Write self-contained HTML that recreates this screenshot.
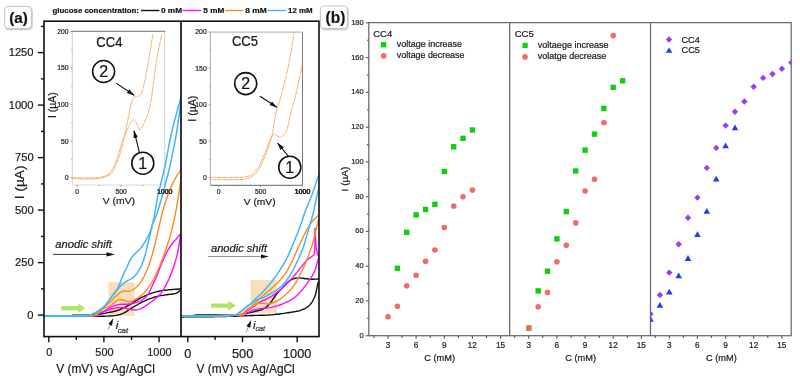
<!DOCTYPE html>
<html><head><meta charset="utf-8"><title>figure</title>
<style>html,body{margin:0;padding:0;background:#fff;} text{stroke:#222;stroke-width:0.22px;} body{width:800px;height:381px;overflow:hidden;position:relative;font-family:"Liberation Sans", sans-serif;}</style>
</head><body>
<svg width="800" height="381" viewBox="0 0 800 381" style="position:absolute;left:0;top:0;will-change:transform">
<rect x="0" y="0" width="800" height="381" fill="#fff"/>
<defs>
<clipPath id="c1"><rect x="44.0" y="21.2" width="137.0" height="315.40000000000003"/></clipPath>
<clipPath id="c2"><rect x="181.0" y="21.2" width="138.0" height="315.40000000000003"/></clipPath>
<marker id="ah" viewBox="0 0 10 10" refX="9.5" refY="5" markerWidth="7" markerHeight="7" orient="auto-start-reverse"><path d="M0,2.1 L10,5 L0,7.9 z" fill="#111"/></marker>
</defs>
<rect x="5.3" y="7.5" width="26.8" height="22.0" rx="3.5" fill="none" stroke="#9a9a9a" stroke-width="1.3" opacity="0.55"/>
<rect x="4.6" y="6.4" width="26.8" height="22.0" rx="3.5" fill="#fff" stroke="#c4c4c4" stroke-width="1"/>
<text x="9.14" y="23.3" font-family='"Liberation Sans", sans-serif' font-size="15.4" font-weight="bold" fill="#111" textLength="18.58" lengthAdjust="spacingAndGlyphs">(a)</text>
<rect x="321.09999999999997" y="7.199999999999999" width="27.0" height="22.3" rx="3.5" fill="none" stroke="#9a9a9a" stroke-width="1.3" opacity="0.55"/>
<rect x="320.4" y="6.1" width="27.0" height="22.3" rx="3.5" fill="#fff" stroke="#c4c4c4" stroke-width="1"/>
<text x="325.62" y="22.9" font-family='"Liberation Sans", sans-serif' font-size="15.8" font-weight="bold" fill="#111" textLength="19.80" lengthAdjust="spacingAndGlyphs">(b)</text>
<text x="52.59" y="12.8" font-family='"Liberation Sans", sans-serif' font-size="7.8" font-weight="bold" fill="#111" textLength="86.37" lengthAdjust="spacingAndGlyphs">glucose concentration:</text>
<text x="160.97" y="12.8" font-family='"Liberation Sans", sans-serif' font-size="7.8" font-weight="bold" fill="#111" textLength="21.08" lengthAdjust="spacingAndGlyphs">0 mM</text>
<text x="203.35" y="12.8" font-family='"Liberation Sans", sans-serif' font-size="7.8" font-weight="bold" fill="#111" textLength="20.94" lengthAdjust="spacingAndGlyphs">5 mM</text>
<text x="245.35" y="12.8" font-family='"Liberation Sans", sans-serif' font-size="7.8" font-weight="bold" fill="#111" textLength="21.30" lengthAdjust="spacingAndGlyphs">8 mM</text>
<text x="288.03" y="12.8" font-family='"Liberation Sans", sans-serif' font-size="7.8" font-weight="bold" fill="#111" textLength="24.61" lengthAdjust="spacingAndGlyphs">12 mM</text>
<line x1="141" y1="10.5" x2="159.4" y2="10.5" stroke="#111" stroke-width="1.4"/>
<line x1="182.6" y1="10.5" x2="201" y2="10.5" stroke="#ff0cff" stroke-width="1.4"/>
<line x1="225.2" y1="10.5" x2="243.4" y2="10.5" stroke="#fb8a1c" stroke-width="1.4"/>
<line x1="267.5" y1="10.5" x2="285.9" y2="10.5" stroke="#49b5f5" stroke-width="1.4"/>
<rect x="108.3" y="282.2" width="26.2" height="33.6" fill="#f7dfbb"/>
<rect x="250.5" y="280.2" width="26.4" height="33.0" fill="#f7dfbb"/>
<rect x="72.3" y="31.4" width="92.39999999999999" height="153.6" fill="#fff"/>
<line x1="72.3" y1="31.4" x2="72.3" y2="185.0" stroke="#cfcfcf" stroke-width="1"/>
<line x1="72.3" y1="185.0" x2="164.7" y2="185.0" stroke="#d8d8d8" stroke-width="1"/>
<line x1="164.7" y1="31.4" x2="164.7" y2="185.0" stroke="#d0d0d0" stroke-width="1"/>
<line x1="70.89999999999999" y1="31.4" x2="165.2" y2="31.4" stroke="#8c8c8c" stroke-width="1.1"/>
<line x1="70.7" y1="177.7" x2="72.3" y2="177.7" stroke="#777" stroke-width="0.7"/>
<line x1="71.3" y1="159.4" x2="72.3" y2="159.4" stroke="#777" stroke-width="0.7"/>
<line x1="70.7" y1="141.1" x2="72.3" y2="141.1" stroke="#777" stroke-width="0.7"/>
<line x1="71.3" y1="122.8" x2="72.3" y2="122.8" stroke="#777" stroke-width="0.7"/>
<line x1="70.7" y1="104.5" x2="72.3" y2="104.5" stroke="#777" stroke-width="0.7"/>
<line x1="71.3" y1="86.3" x2="72.3" y2="86.3" stroke="#777" stroke-width="0.7"/>
<line x1="70.7" y1="68.0" x2="72.3" y2="68.0" stroke="#777" stroke-width="0.7"/>
<line x1="71.3" y1="49.7" x2="72.3" y2="49.7" stroke="#777" stroke-width="0.7"/>
<line x1="70.7" y1="31.4" x2="72.3" y2="31.4" stroke="#777" stroke-width="0.7"/>
<text x="68.6" y="180.1" text-anchor="end" font-family='"Liberation Sans", sans-serif' font-size="6.8" fill="#2a2a2a">0</text>
<text x="68.6" y="143.5" text-anchor="end" font-family='"Liberation Sans", sans-serif' font-size="6.8" fill="#2a2a2a">50</text>
<text x="68.6" y="106.9" text-anchor="end" font-family='"Liberation Sans", sans-serif' font-size="6.8" fill="#2a2a2a">100</text>
<text x="68.6" y="70.4" text-anchor="end" font-family='"Liberation Sans", sans-serif' font-size="6.8" fill="#2a2a2a">150</text>
<text x="68.6" y="33.8" text-anchor="end" font-family='"Liberation Sans", sans-serif' font-size="6.8" fill="#2a2a2a">200</text>
<line x1="77.2" y1="185.0" x2="77.2" y2="186.8" stroke="#777" stroke-width="0.7"/>
<line x1="99.1" y1="185.0" x2="99.1" y2="186.0" stroke="#777" stroke-width="0.7"/>
<line x1="121.1" y1="185.0" x2="121.1" y2="186.8" stroke="#777" stroke-width="0.7"/>
<line x1="143.0" y1="185.0" x2="143.0" y2="186.0" stroke="#777" stroke-width="0.7"/>
<line x1="164.9" y1="185.0" x2="164.9" y2="186.8" stroke="#777" stroke-width="0.7"/>
<text x="77.2" y="193.8" text-anchor="middle" font-family='"Liberation Sans", sans-serif' font-size="6.8" fill="#2a2a2a">0</text>
<text x="121.1" y="193.8" text-anchor="middle" font-family='"Liberation Sans", sans-serif' font-size="6.8" fill="#2a2a2a">500</text>
<text x="164.9" y="193.8" text-anchor="middle" font-family='"Liberation Sans", sans-serif' font-size="6.8" fill="#2a2a2a">1000</text>
<text x="102.75" y="203.6" font-family='"Liberation Sans", sans-serif' font-size="9.6" fill="#1a1a1a" textLength="32.29" lengthAdjust="spacingAndGlyphs">V (mV)</text>
<text transform="translate(56.05,117.94) rotate(-90)" x="0" y="0" font-family='"Liberation Sans", sans-serif' font-size="10.0" fill="#1a1a1a" textLength="25.72" lengthAdjust="spacingAndGlyphs">I (µA)</text>
<text x="96.35" y="47.0" font-family='"Liberation Sans", sans-serif' font-size="14.0" fill="#111" textLength="26.05" lengthAdjust="spacingAndGlyphs">CC4</text>
<path d="M72.5,177.6 C75.4,177.7 85.4,178.1 90.0,178.0 C94.6,177.9 97.0,177.8 100.0,177.3 C103.0,176.8 105.7,176.2 107.8,174.9 C109.9,173.6 110.9,172.2 112.5,169.4 C114.1,166.6 115.6,162.8 117.2,158.3 C118.8,153.8 120.3,147.5 122.0,142.6 C123.7,137.7 126.1,132.4 127.6,129.0 C129.1,125.6 130.1,123.5 131.2,122.0 C132.3,120.5 132.9,119.2 134.0,119.8 C135.1,120.4 136.6,123.9 137.7,125.5 C138.8,127.1 138.9,131.1 140.4,129.6 C141.9,128.1 145.1,121.3 146.8,116.7 C148.5,112.1 149.6,108.1 150.8,102.0 C152.0,95.9 152.7,87.7 153.8,80.0 C154.9,72.3 156.0,63.7 157.3,56.0 C158.7,48.3 161.1,37.7 161.9,34.0" fill="none" stroke="#f59c4c" stroke-width="0.8" stroke-dasharray="5,0.6"/>
<path d="M72.5,178.6 C75.4,178.7 85.4,179.1 90.0,179.0 C94.6,178.9 96.9,178.9 100.0,178.3 C103.1,177.7 106.2,176.9 108.5,175.6 C110.8,174.3 111.8,173.4 113.5,170.5 C115.2,167.6 117.2,161.7 118.5,158.3 C119.8,154.9 120.0,153.9 121.1,150.0 C122.1,146.1 123.6,140.7 124.8,135.1 C126.0,129.5 127.4,121.9 128.5,116.7 C129.6,111.5 130.3,107.2 131.2,103.9 C132.1,100.6 132.9,98.1 134.0,96.8 C135.1,95.5 136.5,96.8 137.7,96.3 C138.9,95.8 140.1,96.5 141.3,93.8 C142.5,91.1 143.7,86.0 145.0,80.0 C146.3,74.0 147.7,65.6 149.0,58.0 C150.3,50.4 152.2,38.4 152.9,34.5" fill="none" stroke="#f59c4c" stroke-width="0.8" stroke-dasharray="5,0.6"/>
<circle cx="103.6" cy="71.5" r="11.0" fill="#fff" stroke="#111" stroke-width="1.55"/>
<text x="103.6" y="77.1" text-anchor="middle" font-family='"Liberation Sans", sans-serif' font-size="16" fill="#111">2</text>
<circle cx="142.8" cy="163.2" r="11.0" fill="#fff" stroke="#111" stroke-width="1.55"/>
<text x="142.8" y="168.8" text-anchor="middle" font-family='"Liberation Sans", sans-serif' font-size="16" fill="#111">1</text>
<line x1="116.2" y1="83.1" x2="134.1" y2="95.2" stroke="#111" stroke-width="1.1" marker-end="url(#ah)"/>
<line x1="139.3" y1="152.0" x2="134.0" y2="130.6" stroke="#111" stroke-width="1.1" marker-end="url(#ah)"/>
<rect x="210.4" y="32.1" width="92.1" height="153.20000000000002" fill="#fff"/>
<line x1="210.4" y1="32.1" x2="210.4" y2="185.3" stroke="#ababab" stroke-width="1"/>
<line x1="210.4" y1="185.3" x2="302.5" y2="185.3" stroke="#666666" stroke-width="1"/>
<line x1="302.5" y1="32.1" x2="302.5" y2="185.3" stroke="#7a7a7a" stroke-width="1"/>
<line x1="209.0" y1="32.1" x2="303.0" y2="32.1" stroke="#bdbdbd" stroke-width="1.1"/>
<line x1="208.8" y1="177.7" x2="210.4" y2="177.7" stroke="#777" stroke-width="0.7"/>
<line x1="209.4" y1="159.5" x2="210.4" y2="159.5" stroke="#777" stroke-width="0.7"/>
<line x1="208.8" y1="141.2" x2="210.4" y2="141.2" stroke="#777" stroke-width="0.7"/>
<line x1="209.4" y1="123.0" x2="210.4" y2="123.0" stroke="#777" stroke-width="0.7"/>
<line x1="208.8" y1="104.8" x2="210.4" y2="104.8" stroke="#777" stroke-width="0.7"/>
<line x1="209.4" y1="86.6" x2="210.4" y2="86.6" stroke="#777" stroke-width="0.7"/>
<line x1="208.8" y1="68.3" x2="210.4" y2="68.3" stroke="#777" stroke-width="0.7"/>
<line x1="209.4" y1="50.1" x2="210.4" y2="50.1" stroke="#777" stroke-width="0.7"/>
<line x1="208.8" y1="31.9" x2="210.4" y2="31.9" stroke="#777" stroke-width="0.7"/>
<text x="206.70000000000002" y="180.1" text-anchor="end" font-family='"Liberation Sans", sans-serif' font-size="6.8" fill="#2a2a2a">0</text>
<text x="206.70000000000002" y="143.7" text-anchor="end" font-family='"Liberation Sans", sans-serif' font-size="6.8" fill="#2a2a2a">50</text>
<text x="206.70000000000002" y="107.2" text-anchor="end" font-family='"Liberation Sans", sans-serif' font-size="6.8" fill="#2a2a2a">100</text>
<text x="206.70000000000002" y="70.8" text-anchor="end" font-family='"Liberation Sans", sans-serif' font-size="6.8" fill="#2a2a2a">150</text>
<text x="206.70000000000002" y="34.3" text-anchor="end" font-family='"Liberation Sans", sans-serif' font-size="6.8" fill="#2a2a2a">200</text>
<line x1="218.7" y1="185.3" x2="218.7" y2="187.10000000000002" stroke="#777" stroke-width="0.7"/>
<line x1="239.7" y1="185.3" x2="239.7" y2="186.3" stroke="#777" stroke-width="0.7"/>
<line x1="260.6" y1="185.3" x2="260.6" y2="187.10000000000002" stroke="#777" stroke-width="0.7"/>
<line x1="281.6" y1="185.3" x2="281.6" y2="186.3" stroke="#777" stroke-width="0.7"/>
<line x1="302.6" y1="185.3" x2="302.6" y2="187.10000000000002" stroke="#777" stroke-width="0.7"/>
<text x="218.7" y="194.4" text-anchor="middle" font-family='"Liberation Sans", sans-serif' font-size="6.8" fill="#2a2a2a">0</text>
<text x="260.6" y="194.4" text-anchor="middle" font-family='"Liberation Sans", sans-serif' font-size="6.8" fill="#2a2a2a">500</text>
<text x="302.6" y="194.4" text-anchor="middle" font-family='"Liberation Sans", sans-serif' font-size="6.8" fill="#2a2a2a">1000</text>
<text x="243.70" y="204.6" font-family='"Liberation Sans", sans-serif' font-size="9.6" fill="#1a1a1a" textLength="31.93" lengthAdjust="spacingAndGlyphs">V (mV)</text>
<text transform="translate(195.50,121.65) rotate(-90)" x="0" y="0" font-family='"Liberation Sans", sans-serif' font-size="10.0" fill="#1a1a1a" textLength="26.04" lengthAdjust="spacingAndGlyphs">I (µA)</text>
<text x="231.95" y="46.4" font-family='"Liberation Sans", sans-serif' font-size="14.0" fill="#111" textLength="26.08" lengthAdjust="spacingAndGlyphs">CC5</text>
<path d="M211.3,177.4 C214.4,177.4 224.5,177.5 230.0,177.4 C235.5,177.3 240.7,177.5 244.4,177.0 C248.1,176.5 249.8,176.1 252.2,174.3 C254.6,172.5 256.6,170.1 258.8,166.4 C261.0,162.7 263.4,156.6 265.4,152.0 C267.4,147.4 269.1,141.9 270.6,138.9 C272.1,135.9 273.1,134.4 274.6,134.1 C276.1,133.8 277.8,137.5 279.8,137.0 C281.8,136.5 284.4,135.5 286.4,131.0 C288.4,126.5 290.1,115.8 291.6,110.0 C293.1,104.2 294.3,101.2 295.5,96.2 C296.7,91.2 297.9,85.2 299.0,80.0 C300.1,74.8 301.6,67.2 302.1,64.7" fill="none" stroke="#f59c4c" stroke-width="0.8" stroke-dasharray="5,0.6"/>
<path d="M211.3,179.6 C214.4,179.6 224.5,179.7 230.0,179.6 C235.5,179.5 240.7,179.8 244.4,179.2 C248.2,178.6 250.0,178.1 252.5,176.3 C255.0,174.5 257.2,172.2 259.5,168.4 C261.8,164.6 263.9,158.9 266.0,153.5 C268.1,148.1 270.5,141.7 271.9,136.2 C273.3,130.7 273.7,125.2 274.6,120.5 C275.5,115.8 276.1,112.1 277.2,108.0 C278.3,103.9 279.5,101.5 281.0,96.0 C282.5,90.5 284.8,82.0 286.4,75.2 C288.0,68.4 289.2,62.2 290.5,55.0 C291.8,47.8 293.6,35.8 294.2,32.0" fill="none" stroke="#f59c4c" stroke-width="0.8" stroke-dasharray="5,0.6"/>
<circle cx="245.7" cy="83.6" r="11.0" fill="#fff" stroke="#111" stroke-width="1.55"/>
<text x="245.7" y="89.2" text-anchor="middle" font-family='"Liberation Sans", sans-serif' font-size="16" fill="#111">2</text>
<circle cx="289.8" cy="167.2" r="11.0" fill="#fff" stroke="#111" stroke-width="1.55"/>
<text x="289.8" y="172.8" text-anchor="middle" font-family='"Liberation Sans", sans-serif' font-size="16" fill="#111">1</text>
<line x1="260.1" y1="96.2" x2="276.8" y2="107.3" stroke="#111" stroke-width="1.1" marker-end="url(#ah)"/>
<line x1="288.4" y1="156.4" x2="277.6" y2="143.0" stroke="#111" stroke-width="1.1" marker-end="url(#ah)"/>
<g clip-path="url(#c1)" fill="none" stroke-width="1.4" stroke-linejoin="round">
<path d="M72.0,315.3 L72.5,315.3 L74.0,315.3 L75.5,315.3 L77.0,315.3 L78.5,315.3 L80.0,315.3 L81.5,315.3 L83.0,315.3 L84.5,315.3 L86.0,315.3 L87.5,315.2 L89.0,315.1 L90.5,315.1 L92.0,314.9 L93.5,314.8 L95.0,314.7 L96.5,314.5 L98.0,314.3 L99.4,314.2 L100.9,314.0 L102.4,313.7 L103.9,313.4 L105.4,313.2 L106.8,312.8 L108.3,312.6 L109.8,312.3 L111.2,312.0 L112.7,311.7 L114.2,311.3 L115.6,311.0 L117.1,310.5 L118.5,310.1 L119.9,309.5 L121.3,309.0 L122.6,308.4 L124.0,307.7 L125.4,307.1 L126.7,306.4 L128.0,305.7 L129.3,304.9 L130.6,304.1 L131.8,303.3 L133.1,302.5 L134.4,301.7 L135.6,300.9 L136.9,300.1 L138.2,299.4 L139.5,298.6 L140.8,297.9 L142.2,297.2 L143.5,296.6 L144.9,295.9 L146.2,295.3 L147.6,294.7 L149.0,294.2 L150.4,293.7 L151.8,293.2 L153.3,292.7 L154.7,292.3 L156.1,291.9 L157.6,291.5 L159.1,291.2 L160.5,290.9 L162.0,290.6 L163.5,290.4 L165.0,290.2 L166.5,290.1 L168.0,289.9 L169.5,289.7 L170.9,289.6 L172.4,289.5 L173.9,289.4 L175.4,289.3 L176.9,289.2 L178.4,289.0 L179.9,289.0 L181.4,288.9 L182.9,288.8" stroke="#111"/>
<path d="M72.0,315.9 L72.5,315.9 L74.0,315.9 L75.5,315.9 L77.0,316.0 L78.5,316.0 L80.0,316.0 L81.5,316.0 L83.0,316.0 L84.5,316.1 L86.0,316.1 L87.5,316.1 L89.0,316.1 L90.5,316.1 L92.0,316.1 L93.5,316.1 L95.0,316.1 L96.5,316.1 L98.0,316.2 L99.5,316.2 L101.0,316.2 L102.5,316.2 L104.0,316.2 L105.5,316.1 L107.0,316.1 L108.5,316.1 L110.0,316.0 L111.5,315.9 L113.0,315.8 L114.5,315.6 L116.0,315.4 L117.4,315.1 L118.9,314.8 L120.3,314.4 L121.7,313.9 L123.1,313.3 L124.5,312.7 L125.8,311.9 L127.0,311.1 L128.2,310.2 L129.5,309.4 L130.7,308.6 L132.0,307.8 L133.3,307.0 L134.6,306.3 L135.9,305.5 L137.2,304.8 L138.5,304.0 L139.8,303.3 L141.2,302.6 L142.5,301.9 L143.8,301.3 L145.2,300.6 L146.6,300.0 L147.9,299.4 L149.3,298.9 L150.7,298.3 L152.1,297.9 L153.6,297.4 L155.0,297.0 L156.5,296.6 L157.9,296.2 L159.4,295.9 L160.9,295.6 L162.3,295.4 L163.8,295.2 L165.3,294.9 L166.8,294.7 L168.3,294.5 L169.8,294.4 L171.3,294.2 L172.7,294.0 L174.2,293.8 L175.7,293.4 L177.0,292.9 L178.3,292.1 L179.4,291.1 L180.4,290.0 L180.7,289.7" stroke="#111"/>
<path d="M40.0,315.9 L40.5,315.9 L42.0,315.9 L43.5,315.9 L45.0,315.9 L46.5,315.9 L48.0,315.9 L49.5,315.9 L51.0,315.9 L52.5,315.9 L54.0,315.9 L55.5,315.9 L57.0,315.9 L58.5,315.9 L60.0,315.9 L61.5,315.9 L63.0,315.9 L64.5,315.9 L66.0,315.9 L67.5,315.9 L69.0,315.9 L70.5,315.9 L72.0,315.9 L73.5,315.9 L75.0,315.9 L76.5,315.9 L78.0,315.9 L79.5,315.9 L81.0,315.9 L82.5,315.8 L84.0,315.8 L85.5,315.8 L87.0,315.8 L88.5,315.8 L90.0,315.8 L91.4,315.7 L92.8,315.5 L94.0,315.2 L95.3,314.7 L96.7,314.2 L98.1,313.7 L99.5,313.1 L100.9,312.5 L102.2,311.9 L103.6,311.3 L104.9,310.6 L106.2,309.8 L107.5,309.1 L108.8,308.3 L110.1,307.6 L111.5,306.9 L112.8,306.3 L114.2,305.8 L115.7,305.3 L117.1,304.9 L118.6,304.6 L120.0,304.4 L121.5,304.3 L123.0,304.3 L124.5,304.3 L126.0,304.3 L127.5,304.2 L129.0,304.0 L130.5,303.8 L132.0,303.6 L133.4,303.3 L134.9,302.9 L136.3,302.5 L137.7,302.0 L139.1,301.4 L140.5,300.8 L141.8,300.1 L143.0,299.3 L144.3,298.4 L145.4,297.4 L146.5,296.4 L147.4,295.2 L148.2,294.0 L149.0,292.7 L149.7,291.4 L150.4,290.1 L151.0,288.7 L151.6,287.3 L152.2,286.0 L152.8,284.6 L153.5,283.2 L154.1,281.9 L154.8,280.5 L155.4,279.2 L156.0,277.8 L156.5,276.4 L157.1,275.0 L157.6,273.6 L158.2,272.2 L158.7,270.8 L159.3,269.4 L159.8,268.0 L160.4,266.6 L160.9,265.2 L161.5,263.8 L162.1,262.4 L162.6,261.1 L163.2,259.7 L163.9,258.3 L164.5,257.0 L165.1,255.6 L165.8,254.2 L166.4,252.9 L167.1,251.6 L167.8,250.2 L168.6,249.0 L169.4,247.7 L170.2,246.5 L171.1,245.2 L172.0,244.0 L172.9,242.8 L173.8,241.7 L174.8,240.5 L175.8,239.4 L176.8,238.2 L177.7,237.1 L178.7,236.0 L179.7,234.9 L180.8,233.8 L181.9,232.9 L182.7,232.2" stroke="#ff0cff"/>
<path d="M40.0,315.9 L40.5,315.9 L42.0,315.9 L43.5,315.9 L45.0,315.9 L46.5,315.9 L48.0,315.9 L49.5,315.9 L51.0,315.9 L52.5,315.9 L54.0,315.9 L55.5,315.9 L57.0,315.9 L58.5,315.9 L60.0,315.9 L61.5,315.9 L63.0,315.9 L64.5,315.9 L66.0,315.9 L67.5,315.9 L69.0,315.9 L70.5,316.0 L72.0,316.0 L73.5,316.0 L75.0,316.0 L76.5,316.0 L78.0,315.9 L79.5,315.9 L81.0,315.9 L82.5,315.9 L84.0,315.9 L85.5,315.9 L87.0,315.9 L88.5,315.9 L90.0,315.9 L91.5,315.8 L93.0,315.7 L94.4,315.4 L95.8,315.0 L97.2,314.5 L98.6,314.0 L100.0,313.4 L101.4,312.8 L102.8,312.3 L104.2,311.8 L105.6,311.2 L107.0,310.7 L108.4,310.2 L109.8,309.7 L111.2,309.2 L112.7,308.8 L114.1,308.4 L115.6,308.1 L117.1,307.8 L118.5,307.6 L120.0,307.5 L121.5,307.6 L123.0,307.7 L124.5,308.0 L125.9,308.4 L127.4,308.7 L128.8,309.1 L130.3,309.4 L131.8,309.7 L133.3,309.9 L134.7,310.0 L136.2,309.9 L137.7,309.7 L139.1,309.3 L140.5,308.8 L141.9,308.1 L143.2,307.4 L144.5,306.6 L145.7,305.8 L147.0,304.9 L148.2,304.1 L149.4,303.2 L150.6,302.3 L151.8,301.5 L153.0,300.6 L154.2,299.6 L155.4,298.7 L156.5,297.7 L157.7,296.7 L158.7,295.7 L159.8,294.6 L160.8,293.5 L161.7,292.3 L162.5,291.1 L163.3,289.8 L164.1,288.5 L164.8,287.2 L165.5,285.9 L166.2,284.6 L166.9,283.2 L167.6,281.9 L168.3,280.5 L168.9,279.2 L169.5,277.8 L170.1,276.4 L170.6,275.0 L171.2,273.6 L171.7,272.2 L172.2,270.8 L172.7,269.4 L173.2,268.0 L173.7,266.6 L174.1,265.1 L174.6,263.7 L175.1,262.3 L175.6,260.9 L176.0,259.4 L176.4,258.0 L176.8,256.5 L177.1,255.1 L177.4,253.6 L177.7,252.1 L178.0,250.7 L178.3,249.2 L178.6,247.7 L178.8,246.2 L179.1,244.8 L179.3,243.3 L179.5,241.8 L179.8,240.3 L180.0,238.8 L180.2,237.4 L180.5,235.9 L181.1,234.6 L181.8,233.3" stroke="#ff0cff"/>
<path d="M40.0,315.9 L40.5,315.9 L42.0,315.9 L43.5,315.9 L45.0,315.9 L46.5,315.9 L48.0,315.9 L49.5,315.9 L51.0,315.9 L52.5,315.9 L54.0,315.9 L55.5,315.9 L57.0,315.9 L58.5,315.9 L60.0,315.9 L61.5,315.9 L63.0,315.9 L64.5,315.9 L66.0,315.9 L67.5,315.9 L69.0,315.9 L70.5,315.9 L72.0,315.9 L73.5,315.9 L75.0,315.9 L76.5,315.9 L78.0,315.9 L79.5,315.8 L81.0,315.8 L82.5,315.8 L84.0,315.8 L85.5,315.8 L87.0,315.7 L88.5,315.7 L90.0,315.7 L91.5,315.6 L93.0,315.5 L94.5,315.4 L95.8,315.1 L96.7,314.5 L97.2,313.7 L98.0,312.7 L99.0,311.7 L100.1,310.8 L101.3,309.8 L102.4,308.9 L103.6,307.9 L104.7,306.9 L105.9,306.0 L107.0,305.0 L108.1,304.0 L109.2,303.0 L110.3,301.9 L111.4,300.9 L112.4,299.8 L113.4,298.6 L114.4,297.5 L115.4,296.4 L116.5,295.4 L117.6,294.4 L118.8,293.5 L120.0,292.6 L121.3,291.8 L122.6,291.3 L124.0,291.0 L125.5,291.1 L127.0,291.4 L128.4,291.4 L129.9,291.2 L131.2,290.7 L132.5,290.0 L133.8,289.1 L135.0,288.2 L136.1,287.3 L137.2,286.3 L138.3,285.2 L139.3,284.1 L140.2,282.9 L141.1,281.7 L141.9,280.4 L142.6,279.1 L143.3,277.8 L144.0,276.5 L144.7,275.1 L145.3,273.8 L145.9,272.4 L146.5,271.0 L147.1,269.6 L147.7,268.3 L148.2,266.9 L148.8,265.4 L149.3,264.0 L149.7,262.6 L150.2,261.2 L150.7,259.8 L151.1,258.3 L151.5,256.9 L152.0,255.4 L152.4,254.0 L152.8,252.6 L153.2,251.1 L153.5,249.7 L153.9,248.2 L154.3,246.8 L154.7,245.3 L155.0,243.8 L155.4,242.4 L155.8,240.9 L156.1,239.5 L156.5,238.0 L156.8,236.6 L157.1,235.1 L157.5,233.6 L157.8,232.2 L158.1,230.7 L158.5,229.2 L158.8,227.8 L159.2,226.3 L159.5,224.9 L159.8,223.4 L160.1,221.9 L160.5,220.5 L160.8,219.0 L161.1,217.5 L161.5,216.1 L161.8,214.6 L162.2,213.2 L162.6,211.7 L163.0,210.3 L163.4,208.8 L163.8,207.4 L164.2,206.0 L164.7,204.5 L165.1,203.1 L165.6,201.7 L166.1,200.2 L166.6,198.8 L167.1,197.4 L167.5,196.0 L168.0,194.6 L168.6,193.2 L169.1,191.8 L169.6,190.4 L170.2,189.0 L170.8,187.6 L171.4,186.2 L172.0,184.8 L172.6,183.5 L173.3,182.1 L174.0,180.8 L174.6,179.5 L175.4,178.2 L176.1,176.9 L176.9,175.6 L177.7,174.3 L178.6,173.1 L179.5,171.9 L180.4,170.7 L181.3,169.5 L182.3,168.4 L182.9,167.6" stroke="#fb8a1c"/>
<path d="M40.0,315.9 L40.5,315.9 L42.0,315.9 L43.5,315.9 L45.0,315.9 L46.5,315.9 L48.0,315.9 L49.5,315.9 L51.0,315.9 L52.5,315.9 L54.0,315.9 L55.5,315.9 L57.0,315.9 L58.5,315.9 L60.0,315.9 L61.5,315.9 L63.0,315.9 L64.5,315.9 L66.0,315.9 L67.5,315.9 L69.0,315.9 L70.5,315.9 L72.0,315.9 L73.5,315.9 L75.0,315.9 L76.5,315.9 L78.0,315.9 L79.5,315.9 L81.0,315.9 L82.5,315.9 L84.0,315.9 L85.5,315.8 L87.0,315.8 L88.5,315.8 L90.0,315.8 L91.5,315.7 L93.0,315.6 L94.5,315.5 L95.8,315.3 L96.7,314.8 L97.3,314.0 L98.1,313.0 L99.1,312.1 L100.3,311.1 L101.4,310.2 L102.7,309.3 L104.0,308.6 L105.3,307.9 L106.7,307.3 L108.1,306.8 L109.4,306.1 L110.7,305.3 L111.9,304.5 L113.1,303.5 L114.2,302.6 L115.4,301.6 L116.6,300.8 L117.9,300.0 L119.3,299.6 L120.7,299.5 L122.2,299.7 L123.6,300.2 L125.0,300.7 L126.4,301.2 L127.8,301.6 L129.2,301.7 L130.7,301.5 L132.1,301.0 L133.4,300.4 L134.8,299.7 L136.1,298.9 L137.3,298.1 L138.6,297.3 L139.8,296.4 L141.0,295.5 L142.1,294.5 L143.2,293.5 L144.3,292.4 L145.3,291.3 L146.3,290.2 L147.3,289.1 L148.2,287.9 L149.1,286.7 L150.0,285.5 L150.8,284.3 L151.6,283.0 L152.4,281.7 L153.1,280.4 L153.8,279.0 L154.4,277.7 L155.1,276.3 L155.7,275.0 L156.3,273.6 L156.9,272.2 L157.5,270.9 L158.1,269.5 L158.7,268.1 L159.3,266.7 L159.9,265.4 L160.5,264.0 L161.0,262.6 L161.5,261.2 L162.1,259.8 L162.6,258.4 L163.1,257.0 L163.7,255.6 L164.2,254.1 L164.7,252.7 L165.2,251.3 L165.7,249.9 L166.2,248.5 L166.7,247.1 L167.1,245.6 L167.6,244.2 L168.1,242.8 L168.5,241.4 L169.0,239.9 L169.4,238.5 L169.8,237.1 L170.2,235.6 L170.6,234.2 L171.0,232.7 L171.4,231.3 L171.8,229.8 L172.2,228.4 L172.5,226.9 L172.9,225.5 L173.2,224.0 L173.5,222.5 L173.9,221.1 L174.2,219.6 L174.5,218.1 L174.8,216.7 L175.1,215.2 L175.4,213.7 L175.6,212.2 L175.9,210.8 L176.2,209.3 L176.5,207.8 L176.7,206.3 L177.0,204.9 L177.2,203.4 L177.5,201.9 L177.7,200.4 L178.0,198.9 L178.2,197.5 L178.4,196.0 L178.7,194.5 L178.9,193.0 L179.1,191.5 L179.3,190.0 L179.5,188.6 L179.8,187.1 L180.0,185.6 L180.2,184.1 L180.4,182.6 L180.6,181.1 L180.9,179.7 L181.1,178.2 L181.4,176.7 L181.7,175.2 L182.0,173.8 L182.4,172.3 L182.8,170.9 L182.9,170.4" stroke="#fb8a1c"/>
<path d="M40.0,315.9 L40.5,315.9 L42.0,315.9 L43.5,315.9 L45.0,315.9 L46.5,315.9 L48.0,315.9 L49.5,315.9 L51.0,315.9 L52.5,315.9 L54.0,315.9 L55.5,315.9 L57.0,315.9 L58.5,315.9 L60.0,315.9 L61.5,315.9 L63.0,315.9 L64.5,315.9 L66.0,315.9 L67.5,315.8 L69.0,315.8 L70.5,315.8 L72.0,315.8 L73.5,315.8 L75.0,315.8 L76.5,315.8 L78.0,315.8 L79.5,315.8 L81.0,315.8 L82.5,315.8 L84.0,315.7 L85.5,315.7 L87.0,315.7 L88.5,315.6 L89.8,315.4 L90.9,315.0 L91.9,314.4 L93.2,313.8 L94.5,313.2 L95.9,312.5 L97.2,311.8 L98.5,311.0 L99.7,310.2 L100.9,309.3 L102.1,308.4 L103.3,307.5 L104.4,306.4 L105.4,305.4 L106.4,304.2 L107.3,303.0 L108.2,301.8 L109.1,300.6 L110.0,299.4 L110.9,298.2 L111.7,297.0 L112.6,295.8 L113.5,294.6 L114.4,293.4 L115.3,292.2 L116.3,291.0 L117.2,289.8 L118.2,288.7 L119.1,287.5 L120.1,286.4 L121.2,285.4 L122.3,284.4 L123.5,283.4 L124.7,282.6 L125.9,281.7 L127.2,280.9 L128.5,280.2 L129.9,279.6 L131.2,278.9 L132.5,278.1 L133.7,277.2 L134.7,276.1 L135.7,275.0 L136.6,273.8 L137.5,272.6 L138.3,271.3 L139.1,270.1 L139.8,268.8 L140.5,267.4 L141.2,266.1 L141.8,264.7 L142.3,263.3 L142.9,261.9 L143.4,260.5 L143.9,259.1 L144.3,257.7 L144.8,256.2 L145.2,254.8 L145.6,253.4 L146.0,251.9 L146.3,250.5 L146.7,249.0 L147.0,247.5 L147.3,246.0 L147.6,244.6 L148.0,243.1 L148.3,241.7 L148.7,240.2 L149.1,238.8 L149.4,237.3 L149.8,235.9 L150.2,234.4 L150.5,232.9 L150.8,231.5 L151.2,230.0 L151.5,228.5 L151.8,227.1 L152.1,225.6 L152.4,224.1 L152.8,222.7 L153.1,221.2 L153.5,219.8 L153.8,218.3 L154.1,216.8 L154.4,215.4 L154.7,213.9 L155.0,212.4 L155.2,210.9 L155.5,209.5 L155.7,208.0 L156.0,206.5 L156.2,205.0 L156.5,203.6 L156.7,202.1 L157.0,200.6 L157.2,199.1 L157.5,197.6 L157.8,196.2 L158.1,194.7 L158.4,193.2 L158.7,191.8 L159.1,190.3 L159.5,188.9 L159.9,187.4 L160.3,186.0 L160.6,184.5 L161.0,183.1 L161.3,181.6 L161.7,180.1 L162.1,178.7 L162.4,177.2 L162.8,175.8 L163.1,174.3 L163.5,172.9 L163.8,171.4 L164.1,169.9 L164.5,168.5 L164.8,167.0 L165.1,165.5 L165.4,164.1 L165.7,162.6 L166.0,161.1 L166.3,159.7 L166.5,158.2 L166.8,156.7 L167.1,155.2 L167.4,153.8 L167.6,152.3 L167.9,150.8 L168.2,149.3 L168.5,147.9 L168.7,146.4 L169.0,144.9 L169.3,143.4 L169.6,142.0 L169.9,140.5 L170.2,139.0 L170.5,137.6 L170.8,136.1 L171.1,134.6 L171.5,133.2 L171.8,131.7 L172.1,130.2 L172.5,128.8 L172.9,127.3 L173.2,125.9 L173.6,124.4 L174.0,123.0 L174.3,121.5 L174.7,120.1 L175.1,118.6 L175.5,117.2 L175.9,115.7 L176.3,114.3 L176.7,112.8 L177.1,111.4 L177.5,109.9 L177.9,108.5 L178.3,107.0 L178.7,105.6 L179.1,104.2 L179.5,102.7 L179.9,101.3 L180.3,99.8 L180.7,98.4 L181.1,96.9 L181.4,95.5 L181.8,94.0 L182.0,93.0" stroke="#49b5f5" stroke-width="1.55"/>
<path d="M40.0,315.9 L40.5,315.9 L42.0,315.9 L43.5,315.9 L45.0,315.9 L46.5,315.9 L48.0,315.9 L49.5,315.9 L51.0,315.9 L52.5,315.9 L54.0,315.9 L55.5,315.9 L57.0,315.9 L58.5,315.9 L60.0,315.9 L61.5,315.9 L63.0,315.9 L64.5,315.9 L66.0,315.9 L67.5,315.8 L69.0,315.8 L70.5,315.8 L72.0,315.8 L73.5,315.8 L75.0,315.8 L76.5,315.8 L78.0,315.8 L79.5,315.8 L81.0,315.8 L82.5,315.8 L84.0,315.7 L85.5,315.7 L87.0,315.7 L88.5,315.6 L89.8,315.4 L90.8,315.0 L91.9,314.4 L93.2,313.8 L94.5,313.1 L95.8,312.4 L97.1,311.6 L98.4,310.8 L99.6,310.0 L100.8,309.1 L102.0,308.2 L103.2,307.2 L104.2,306.2 L105.3,305.1 L106.2,304.0 L107.2,302.8 L108.1,301.6 L109.0,300.4 L109.8,299.2 L110.7,297.9 L111.5,296.7 L112.4,295.5 L113.3,294.3 L114.2,293.1 L115.2,291.9 L116.1,290.7 L117.0,289.5 L117.8,288.2 L118.4,286.9 L119.0,285.5 L119.6,284.1 L120.1,282.7 L120.6,281.3 L121.2,279.9 L121.7,278.5 L122.2,277.1 L122.8,275.7 L123.4,274.4 L124.0,273.0 L124.6,271.6 L125.3,270.3 L126.0,269.0 L126.7,267.6 L127.3,266.3 L127.9,264.9 L128.5,263.5 L129.1,262.2 L129.8,260.8 L130.5,259.5 L131.3,258.2 L132.1,257.0 L133.0,255.8 L134.0,254.7 L135.1,253.6 L136.2,252.6 L137.3,251.5 L138.3,250.5 L139.4,249.5 L140.4,248.4 L141.4,247.2 L142.3,246.0 L143.1,244.8 L143.9,243.5 L144.7,242.2 L145.5,240.9 L146.2,239.6 L146.9,238.3 L147.6,237.0 L148.3,235.7 L149.0,234.3 L149.6,232.9 L150.2,231.6 L150.7,230.2 L151.2,228.7 L151.6,227.3 L152.0,225.9 L152.5,224.4 L153.1,223.1 L153.7,221.7 L154.3,220.3 L154.9,219.0 L155.5,217.6 L156.0,216.2 L156.6,214.8 L157.0,213.4 L157.5,211.9 L157.9,210.5 L158.4,209.1 L158.8,207.6 L159.3,206.2 L159.7,204.8 L160.1,203.3 L160.5,201.9 L160.9,200.4 L161.4,199.0 L161.8,197.6 L162.2,196.1 L162.6,194.7 L163.0,193.2 L163.4,191.8 L163.7,190.3 L164.1,188.9 L164.4,187.4 L164.8,185.9 L165.1,184.5 L165.5,183.0 L165.9,181.6 L166.3,180.1 L166.7,178.7 L167.1,177.3 L167.5,175.8 L167.9,174.4 L168.3,172.9 L168.7,171.5 L169.0,170.0 L169.4,168.5 L169.7,167.1 L170.1,165.6 L170.4,164.2 L170.7,162.7 L171.0,161.2 L171.3,159.8 L171.6,158.3 L171.9,156.8 L172.2,155.4 L172.5,153.9 L172.8,152.4 L173.1,150.9 L173.4,149.5 L173.7,148.0 L174.0,146.5 L174.3,145.1 L174.6,143.6 L174.8,142.1 L175.1,140.6 L175.4,139.2 L175.7,137.7 L175.9,136.2 L176.2,134.7 L176.4,133.2 L176.7,131.8 L176.9,130.3 L177.2,128.8 L177.4,127.3 L177.6,125.8 L177.8,124.4 L178.0,122.9 L178.2,121.4 L178.5,119.9 L178.7,118.4 L178.9,116.9 L179.1,115.5 L179.3,114.0 L179.6,112.5 L179.8,111.0 L180.0,109.5 L180.2,108.0 L180.4,106.5 L180.6,105.1 L180.9,103.6 L181.1,102.1 L181.3,100.6 L181.5,99.1 L181.8,97.6 L182.0,96.2" stroke="#49b5f5" stroke-width="1.55"/>
</g>
<g clip-path="url(#c2)" fill="none" stroke-width="1.4" stroke-linejoin="round">
<path d="M178.0,315.9 L178.5,315.9 L180.0,315.9 L181.5,315.8 L183.0,315.8 L184.5,315.8 L186.0,315.7 L187.5,315.7 L189.0,315.7 L190.5,315.6 L192.0,315.6 L193.4,315.5 L194.5,315.3 L195.5,315.1 L196.7,314.9 L198.2,314.9 L199.7,314.9 L201.2,314.9 L202.7,314.9 L204.2,314.9 L205.7,314.9 L207.2,314.9 L208.7,314.9 L210.2,314.9 L211.7,314.9 L213.2,314.9 L214.7,314.9 L216.2,314.9 L217.7,314.9 L219.2,314.9 L220.7,314.9 L222.2,314.9 L223.7,314.9 L225.2,314.9 L226.7,314.9 L228.2,314.9 L229.7,314.9 L231.2,314.9 L232.7,314.8 L234.2,314.8 L235.7,314.8 L237.2,314.7 L238.7,314.7 L240.2,314.6 L241.7,314.5 L243.2,314.3 L244.6,314.0 L246.1,313.6 L247.6,313.3 L249.0,312.9 L250.5,312.6 L251.9,312.2 L253.4,311.9 L254.8,311.5 L256.3,311.1 L257.7,310.8 L259.2,310.4 L260.7,310.0 L262.1,309.6 L263.4,308.9 L264.7,308.2 L265.9,307.3 L267.1,306.3 L268.1,305.3 L269.2,304.2 L270.1,303.1 L271.1,301.9 L272.0,300.7 L272.8,299.5 L273.7,298.2 L274.5,297.0 L275.4,295.7 L276.2,294.5 L277.2,293.3 L278.1,292.2 L279.2,291.1 L280.2,290.0 L281.3,289.0 L282.3,287.9 L283.3,286.8 L284.4,285.7 L285.4,284.6 L286.5,283.6 L287.5,282.5 L288.7,281.5 L289.8,280.6 L291.1,279.8 L292.5,279.2 L293.9,278.7 L295.3,278.3 L296.8,278.1 L298.3,277.9 L299.8,277.9 L301.3,278.1 L302.8,278.3 L304.2,278.5 L305.7,278.7 L307.2,278.8 L308.7,279.0 L310.2,279.1 L311.7,279.2 L313.2,279.2 L314.7,279.1 L316.2,279.1 L317.7,279.0 L319.2,279.0 L320.7,279.0 L321.7,279.0" stroke="#111"/>
<path d="M322.0,280.0 L321.5,280.1 L320.1,280.5 L319.0,281.3 L318.2,282.5 L317.8,283.9 L317.5,285.4 L317.2,286.8 L316.9,288.3 L316.6,289.8 L316.3,291.2 L316.0,292.7 L315.6,294.2 L315.1,295.6 L314.6,297.0 L314.0,298.3 L313.3,299.7 L312.7,301.0 L311.9,302.3 L311.0,303.5 L310.1,304.7 L309.0,305.7 L307.8,306.6 L306.6,307.5 L305.3,308.3 L304.0,309.0 L302.6,309.6 L301.2,310.1 L299.8,310.6 L298.4,311.0 L296.9,311.3 L295.4,311.6 L293.9,311.8 L292.5,312.1 L291.0,312.3 L289.5,312.5 L288.0,312.7 L286.5,312.9 L285.0,313.1 L283.6,313.4 L282.1,313.6 L280.6,313.8 L279.1,314.0 L277.6,314.2 L276.1,314.3 L274.6,314.5 L273.1,314.6 L271.6,314.8 L270.1,314.9 L268.6,315.0 L267.1,315.1 L265.7,315.1 L264.2,315.2 L262.7,315.2 L261.2,315.3 L259.7,315.3 L258.2,315.4 L256.7,315.4 L255.2,315.4 L253.7,315.5 L252.2,315.5 L250.7,315.5 L249.2,315.6 L247.7,315.6 L246.2,315.7 L244.7,315.7 L243.2,315.8 L241.7,315.9 L240.2,315.9 L238.7,316.0 L237.2,316.1 L235.7,316.2 L234.2,316.3 L232.7,316.3 L231.2,316.4 L229.7,316.4 L228.2,316.4 L226.7,316.5 L225.2,316.5 L223.7,316.5 L222.2,316.5 L220.7,316.6 L219.2,316.6 L217.7,316.6 L216.2,316.6 L214.7,316.6 L213.2,316.7 L211.7,316.7 L210.2,316.7 L208.7,316.7 L207.2,316.7 L205.7,316.7 L204.2,316.8 L202.7,316.8 L201.2,316.8 L199.7,316.8 L198.2,316.8 L196.7,316.8 L195.2,316.9 L193.7,316.9 L192.2,316.9 L190.7,316.9 L189.2,316.9 L187.7,316.9 L186.2,316.9 L184.7,316.9 L183.2,317.0 L181.7,317.0 L180.2,317.0 L178.7,317.0 L178.2,317.0" stroke="#111"/>
<path d="M178.0,315.9 L178.5,315.9 L180.0,315.9 L181.5,315.9 L183.0,315.9 L184.5,315.9 L186.0,315.8 L187.5,315.8 L189.0,315.8 L190.5,315.8 L192.0,315.8 L193.5,315.8 L195.0,315.8 L196.5,315.8 L198.0,315.8 L199.5,315.8 L201.0,315.8 L202.5,315.8 L204.0,315.8 L205.5,315.8 L207.0,315.7 L208.5,315.7 L210.0,315.7 L211.5,315.7 L213.0,315.7 L214.5,315.7 L216.0,315.7 L217.5,315.7 L219.0,315.7 L220.5,315.6 L222.0,315.6 L223.5,315.6 L225.0,315.6 L226.5,315.6 L228.0,315.5 L229.5,315.5 L231.0,315.5 L232.5,315.5 L234.0,315.4 L235.5,315.4 L237.0,315.3 L238.5,315.3 L240.0,315.2 L241.5,315.1 L243.0,314.9 L244.3,314.7 L245.2,314.1 L245.3,313.2 L245.5,312.3 L246.4,311.4 L247.6,310.5 L248.8,309.7 L250.1,308.9 L251.3,308.0 L252.6,307.2 L253.8,306.3 L255.0,305.4 L256.2,304.5 L257.4,303.6 L258.7,302.8 L259.9,302.0 L261.3,301.3 L262.6,300.7 L264.0,300.1 L265.4,299.5 L266.7,298.9 L268.1,298.2 L269.4,297.5 L270.7,296.8 L272.0,296.0 L273.2,295.2 L274.5,294.3 L275.7,293.4 L276.9,292.5 L278.1,291.6 L279.3,290.7 L280.4,289.7 L281.6,288.8 L282.7,287.8 L283.8,286.7 L284.8,285.7 L285.9,284.6 L286.9,283.6 L288.0,282.5 L289.0,281.4 L290.1,280.3 L291.1,279.2 L292.1,278.1 L293.1,277.0 L294.1,275.8 L295.0,274.7 L296.0,273.5 L296.9,272.4 L297.8,271.2 L298.8,270.0 L299.7,268.8 L300.7,267.7 L301.6,266.5 L302.5,265.3 L303.5,264.1 L304.4,263.0 L305.4,261.9 L306.5,260.8 L307.5,259.8 L308.7,258.8 L309.9,257.9 L311.1,257.0 L312.3,256.2 L313.4,255.5 L314.2,254.4 L314.5,253.0 L314.6,251.5 L314.7,250.0 L314.8,248.5 L314.8,247.0 L314.9,245.5 L314.9,244.0 L314.9,242.5 L315.0,241.0 L315.0,239.5 L315.0,238.0 L315.1,236.5 L315.1,235.0 L315.1,233.5 L315.2,232.0 L315.2,230.5 L315.2,229.0 L315.2,228.0" stroke="#ff0cff"/>
<path d="M315.2,228.0 L315.2,228.5 L315.3,230.0 L315.3,231.5 L315.4,233.0 L315.4,234.5 L315.5,236.0 L315.5,237.5 L315.6,239.0 L315.7,240.5 L315.7,242.0 L315.8,243.5 L316.0,245.0 L316.1,246.5 L316.3,248.0 L316.5,249.4 L316.8,250.9 L317.1,252.4 L317.5,253.8 L318.1,255.1 L319.2,255.9 L320.5,256.1 L322.0,256.0" stroke="#ff0cff"/>
<path d="M322.0,250.0 L321.8,250.5 L321.2,251.8 L320.7,253.2 L320.1,254.6 L319.5,256.0 L319.0,257.4 L318.4,258.8 L317.9,260.2 L317.5,261.7 L317.1,263.1 L316.7,264.5 L316.3,266.0 L315.9,267.4 L315.5,268.9 L315.0,270.3 L314.4,271.7 L313.7,273.0 L313.0,274.3 L312.3,275.6 L311.5,276.9 L310.7,278.2 L309.9,279.4 L309.1,280.7 L308.2,281.9 L307.4,283.2 L306.5,284.4 L305.6,285.6 L304.7,286.8 L303.7,287.9 L302.8,289.1 L301.8,290.2 L300.8,291.4 L299.9,292.5 L298.9,293.6 L297.8,294.7 L296.7,295.7 L295.6,296.7 L294.4,297.6 L293.2,298.5 L291.9,299.3 L290.6,300.1 L289.3,300.8 L288.0,301.5 L286.6,302.1 L285.2,302.7 L283.9,303.3 L282.5,303.9 L281.1,304.5 L279.7,305.0 L278.3,305.5 L276.8,305.9 L275.4,306.3 L274.0,306.7 L272.5,307.1 L271.0,307.4 L269.6,307.6 L268.1,307.9 L266.6,308.0 L265.1,308.2 L263.6,308.3 L262.1,308.5 L260.6,308.6 L259.1,308.8 L257.6,309.1 L256.2,309.4 L254.7,309.7 L253.3,310.2 L251.9,310.7 L250.5,311.2 L249.1,311.8 L247.7,312.3 L246.4,312.9 L245.4,313.5 L245.1,314.2 L244.6,314.7 L243.6,315.0 L242.1,315.1 L240.6,315.2 L239.1,315.2 L237.6,315.3 L236.1,315.3 L234.6,315.3 L233.1,315.4 L231.6,315.4 L230.1,315.4 L228.6,315.4 L227.1,315.5 L225.6,315.5 L224.1,315.5 L222.6,315.5 L221.1,315.5 L219.6,315.6 L218.1,315.6 L216.6,315.6 L215.1,315.6 L213.6,315.6 L212.1,315.6 L210.6,315.6 L209.1,315.7 L207.6,315.7 L206.1,315.7 L204.6,315.7 L203.1,315.7 L201.6,315.7 L200.1,315.7 L198.6,315.7 L197.1,315.8 L195.6,315.8 L194.1,315.8 L192.6,315.8 L191.1,315.8 L189.6,315.8 L188.1,315.8 L186.6,315.8 L185.1,315.8 L183.6,315.9 L182.1,315.9 L180.6,315.9 L179.1,315.9 L178.1,315.9" stroke="#ff0cff"/>
<path d="M178.0,315.9 L178.5,315.9 L180.0,315.9 L181.5,315.9 L183.0,315.8 L184.5,315.8 L186.0,315.8 L187.5,315.8 L189.0,315.8 L190.5,315.8 L192.0,315.8 L193.5,315.8 L195.0,315.8 L196.5,315.8 L198.0,315.8 L199.5,315.7 L201.0,315.7 L202.5,315.7 L204.0,315.7 L205.5,315.7 L207.0,315.7 L208.5,315.7 L210.0,315.7 L211.5,315.6 L213.0,315.6 L214.5,315.6 L216.0,315.6 L217.5,315.6 L219.0,315.5 L220.5,315.5 L222.0,315.5 L223.5,315.4 L225.0,315.4 L226.5,315.4 L228.0,315.3 L229.5,315.3 L231.0,315.2 L232.5,315.1 L234.0,315.1 L235.5,315.0 L237.0,314.8 L238.5,314.7 L239.9,314.4 L241.4,314.0 L242.6,313.4 L243.7,312.4 L244.8,311.4 L246.0,310.5 L247.2,309.7 L248.4,308.8 L249.6,307.9 L250.8,307.0 L252.0,306.0 L253.1,305.1 L254.2,304.1 L255.3,303.1 L256.4,302.0 L257.5,301.0 L258.5,299.9 L259.6,298.8 L260.7,297.8 L261.8,296.8 L262.9,295.8 L264.1,294.8 L265.2,293.9 L266.4,292.9 L267.5,291.9 L268.7,291.0 L269.8,290.0 L270.9,289.0 L272.0,288.0 L273.1,287.0 L274.2,285.9 L275.3,284.9 L276.4,283.9 L277.5,282.9 L278.6,281.8 L279.6,280.7 L280.6,279.6 L281.6,278.5 L282.6,277.3 L283.5,276.1 L284.3,274.9 L285.2,273.7 L286.0,272.4 L286.8,271.1 L287.5,269.8 L288.3,268.6 L289.0,267.2 L289.8,265.9 L290.5,264.6 L291.2,263.3 L291.8,261.9 L292.5,260.6 L293.1,259.2 L293.7,257.9 L294.3,256.5 L294.9,255.1 L295.5,253.7 L296.1,252.4 L296.7,251.0 L297.3,249.6 L297.9,248.2 L298.5,246.9 L299.2,245.5 L299.8,244.1 L300.4,242.8 L301.1,241.4 L301.7,240.1 L302.3,238.7 L302.9,237.3 L303.6,236.0 L304.2,234.6 L304.9,233.3 L305.6,232.0 L306.3,230.6 L307.0,229.3 L307.8,228.0 L308.5,226.7 L309.3,225.5 L310.2,224.2 L311.0,223.0 L312.0,221.8 L312.9,220.7 L314.0,219.6 L315.0,218.5 L316.1,217.5 L317.2,216.5 L318.4,215.5 L319.6,214.6 L320.8,213.8 L321.6,213.2" stroke="#fb8a1c"/>
<path d="M178.0,315.9 L178.5,315.9 L180.0,315.9 L181.5,315.9 L183.0,315.9 L184.5,315.8 L186.0,315.8 L187.5,315.8 L189.0,315.8 L190.5,315.8 L192.0,315.8 L193.5,315.8 L195.0,315.8 L196.5,315.8 L198.0,315.8 L199.5,315.8 L201.0,315.7 L202.5,315.7 L204.0,315.7 L205.5,315.7 L207.0,315.7 L208.5,315.7 L210.0,315.7 L211.5,315.7 L213.0,315.7 L214.5,315.6 L216.0,315.6 L217.5,315.6 L219.0,315.6 L220.5,315.6 L222.0,315.5 L223.5,315.5 L225.0,315.5 L226.5,315.5 L228.0,315.4 L229.5,315.4 L231.0,315.4 L232.5,315.3 L234.0,315.3 L235.5,315.2 L237.0,315.2 L238.5,315.1 L240.0,315.0 L241.5,314.9 L243.0,314.7 L244.3,314.3 L245.1,313.7 L245.2,312.7 L245.3,311.6 L246.0,310.6 L247.1,309.7 L248.4,308.9 L249.7,308.1 L250.9,307.3 L252.2,306.6 L253.5,305.8 L254.8,305.0 L256.1,304.3 L257.5,303.7 L258.9,303.3 L260.4,303.2 L261.9,303.2 L263.4,303.4 L264.9,303.6 L266.3,303.8 L267.8,303.9 L269.3,303.7 L270.8,303.4 L272.2,303.0 L273.6,302.5 L275.0,302.0 L276.4,301.3 L277.7,300.7 L279.0,299.9 L280.2,299.1 L281.4,298.2 L282.6,297.2 L283.7,296.2 L284.9,295.3 L286.0,294.3 L287.1,293.2 L288.2,292.2 L289.2,291.1 L290.2,290.0 L291.2,288.9 L292.2,287.7 L293.1,286.5 L294.0,285.3 L294.8,284.1 L295.6,282.8 L296.4,281.6 L297.2,280.3 L297.9,279.0 L298.6,277.7 L299.3,276.3 L300.0,275.0 L300.6,273.6 L301.3,272.3 L302.0,270.9 L302.7,269.6 L303.3,268.3 L303.9,266.9 L304.6,265.5 L305.1,264.1 L305.7,262.7 L306.2,261.3 L306.8,259.9 L307.3,258.5 L307.8,257.1 L308.4,255.7 L308.9,254.3 L309.4,252.9 L310.0,251.5 L310.5,250.1 L310.9,248.7 L311.4,247.3 L311.9,245.8 L312.3,244.4 L312.7,243.0 L313.1,241.5 L313.5,240.1 L313.9,238.6 L314.2,237.2 L314.6,235.7 L314.9,234.3 L315.3,232.8 L315.7,231.3 L316.0,229.9 L316.4,228.4 L316.7,227.0 L317.1,225.5 L317.5,224.1 L317.8,222.6 L318.2,221.2 L318.8,219.8 L319.5,218.5 L320.5,217.4 L321.6,216.4 L322.0,216.0" stroke="#fb8a1c"/>
<path d="M178.0,315.9 L178.5,315.9 L180.0,315.9 L181.5,315.9 L183.0,315.9 L184.5,315.9 L186.0,315.9 L187.5,315.9 L189.0,315.9 L190.5,315.9 L192.0,315.9 L193.5,315.9 L195.0,315.9 L196.5,315.8 L198.0,315.8 L199.5,315.8 L201.0,315.8 L202.5,315.8 L204.0,315.8 L205.5,315.8 L207.0,315.8 L208.5,315.8 L210.0,315.8 L211.5,315.8 L213.0,315.8 L214.5,315.8 L216.0,315.7 L217.5,315.7 L219.0,315.7 L220.5,315.7 L222.0,315.7 L223.5,315.7 L225.0,315.6 L226.5,315.6 L228.0,315.6 L229.5,315.5 L231.0,315.5 L232.5,315.4 L234.0,315.3 L235.4,315.0 L236.7,314.5 L237.9,313.7 L239.1,312.8 L240.3,311.9 L241.4,311.0 L242.6,310.0 L243.7,309.0 L244.9,308.1 L246.0,307.1 L247.3,306.3 L248.5,305.4 L249.7,304.5 L250.9,303.6 L252.0,302.6 L253.1,301.6 L254.1,300.5 L255.1,299.4 L256.2,298.3 L257.3,297.3 L258.4,296.3 L259.5,295.3 L260.6,294.2 L261.7,293.2 L262.7,292.1 L263.7,291.0 L264.8,289.9 L265.7,288.8 L266.7,287.7 L267.7,286.5 L268.7,285.4 L269.6,284.2 L270.6,283.1 L271.5,281.9 L272.4,280.7 L273.3,279.5 L274.2,278.3 L275.1,277.1 L276.0,275.9 L276.9,274.6 L277.7,273.4 L278.6,272.2 L279.4,270.9 L280.2,269.7 L281.0,268.4 L281.8,267.1 L282.6,265.9 L283.4,264.6 L284.1,263.3 L284.9,262.0 L285.6,260.7 L286.3,259.3 L287.0,258.0 L287.6,256.7 L288.3,255.3 L288.9,253.9 L289.5,252.6 L290.1,251.2 L290.6,249.8 L291.2,248.4 L291.8,247.0 L292.3,245.6 L292.9,244.2 L293.5,242.9 L294.1,241.5 L294.7,240.1 L295.3,238.7 L295.8,237.3 L296.4,235.9 L297.0,234.6 L297.5,233.2 L298.1,231.8 L298.6,230.4 L299.2,229.0 L299.7,227.6 L300.2,226.2 L300.7,224.7 L301.2,223.3 L301.7,221.9 L302.2,220.5 L302.6,219.1 L303.1,217.6 L303.5,216.2 L304.0,214.8 L304.5,213.4 L305.0,212.0 L305.6,210.6 L306.1,209.2 L306.7,207.8 L307.3,206.4 L307.8,205.0 L308.4,203.6 L309.0,202.2 L309.6,200.8 L310.1,199.5 L310.7,198.1 L311.2,196.7 L311.8,195.3 L312.3,193.9 L312.8,192.4 L313.3,191.0 L313.8,189.6 L314.3,188.2 L314.7,186.8 L315.2,185.4 L315.7,183.9 L316.2,182.5 L316.7,181.1 L317.2,179.7 L317.7,178.3 L318.2,176.8 L318.7,175.4 L319.2,174.0 L319.8,172.6 L320.3,171.2 L320.7,169.8 L321.2,168.4 L321.7,167.0 L322.0,166.0" stroke="#49b5f5" stroke-width="1.55"/>
<path d="M178.0,315.9 L178.5,315.9 L180.0,315.9 L181.5,315.9 L183.0,315.9 L184.5,315.9 L186.0,315.9 L187.5,315.9 L189.0,315.9 L190.5,315.9 L192.0,315.9 L193.5,315.9 L195.0,315.8 L196.5,315.8 L198.0,315.8 L199.5,315.8 L201.0,315.8 L202.5,315.8 L204.0,315.8 L205.5,315.8 L207.0,315.8 L208.5,315.8 L210.0,315.8 L211.5,315.8 L213.0,315.8 L214.5,315.8 L216.0,315.7 L217.5,315.7 L219.0,315.7 L220.5,315.7 L222.0,315.7 L223.5,315.7 L225.0,315.6 L226.5,315.6 L228.0,315.6 L229.5,315.5 L231.0,315.5 L232.5,315.4 L234.0,315.3 L235.4,315.0 L236.7,314.5 L237.9,313.7 L239.1,312.9 L240.4,312.0 L241.5,311.1 L242.7,310.1 L243.8,309.2 L245.0,308.2 L246.2,307.3 L247.4,306.4 L248.6,305.5 L249.8,304.6 L251.0,303.8 L252.2,302.9 L253.5,302.1 L254.7,301.2 L256.0,300.4 L257.3,299.7 L258.6,299.1 L260.1,298.6 L261.5,298.3 L262.9,297.7 L264.2,297.1 L265.5,296.4 L266.9,295.7 L268.2,295.0 L269.5,294.3 L270.8,293.6 L272.1,292.8 L273.4,292.1 L274.7,291.3 L276.0,290.5 L277.2,289.6 L278.4,288.7 L279.5,287.7 L280.7,286.7 L281.8,285.7 L282.8,284.7 L283.9,283.6 L284.9,282.5 L285.9,281.3 L286.8,280.2 L287.7,279.0 L288.5,277.7 L289.4,276.5 L290.1,275.2 L290.9,273.9 L291.6,272.6 L292.4,271.3 L293.1,270.0 L293.8,268.6 L294.4,267.3 L295.1,265.9 L295.7,264.6 L296.4,263.2 L297.0,261.9 L297.7,260.5 L298.3,259.2 L298.9,257.8 L299.5,256.4 L300.1,255.1 L300.8,253.7 L301.3,252.3 L301.9,250.9 L302.5,249.5 L303.0,248.1 L303.5,246.7 L303.9,245.3 L304.4,243.8 L304.8,242.4 L305.2,241.0 L305.6,239.5 L306.1,238.1 L306.5,236.6 L306.9,235.2 L307.3,233.8 L307.7,232.3 L308.2,230.9 L308.6,229.4 L309.0,228.0 L309.4,226.6 L309.9,225.1 L310.3,223.7 L310.7,222.3 L311.1,220.8 L311.6,219.4 L312.0,217.9 L312.4,216.5 L312.7,215.0 L313.1,213.6 L313.4,212.1 L313.8,210.7 L314.1,209.2 L314.4,207.7 L314.7,206.3 L315.1,204.8 L315.4,203.3 L315.7,201.9 L316.0,200.4 L316.3,198.9 L316.6,197.5 L317.0,196.0 L317.3,194.5 L317.6,193.1 L318.0,191.6 L318.5,190.2 L318.9,188.8 L319.5,187.4 L320.0,186.0 L320.5,184.6 L321.1,183.2 L321.7,181.8 L321.9,181.3" stroke="#49b5f5" stroke-width="1.55"/>
</g>
<line x1="44.0" y1="315.9" x2="88" y2="315.9" stroke="#49b5f5" stroke-width="2"/>
<line x1="181.0" y1="315.9" x2="230" y2="315.9" stroke="#49b5f5" stroke-width="2"/>
<text x="157.10" y="193.9" font-family='"Liberation Sans", sans-serif' font-size="7.6" fill="#1e1e1e" textLength="14.94" lengthAdjust="spacingAndGlyphs">1000</text>
<text x="294.46" y="194.4" font-family='"Liberation Sans", sans-serif' font-size="7.6" fill="#1e1e1e" textLength="15.99" lengthAdjust="spacingAndGlyphs">1000</text>
<rect x="44.0" y="21.2" width="275.0" height="315.40000000000003" fill="none" stroke="#111" stroke-width="1.6"/>
<line x1="181.0" y1="21.2" x2="181.0" y2="336.6" stroke="#111" stroke-width="1.7"/>
<line x1="37.8" y1="315.1" x2="44.0" y2="315.1" stroke="#111" stroke-width="1.4"/>
<line x1="41.0" y1="288.9" x2="44.0" y2="288.9" stroke="#111" stroke-width="1.4"/>
<line x1="37.8" y1="262.6" x2="44.0" y2="262.6" stroke="#111" stroke-width="1.4"/>
<line x1="41.0" y1="236.4" x2="44.0" y2="236.4" stroke="#111" stroke-width="1.4"/>
<line x1="37.8" y1="210.1" x2="44.0" y2="210.1" stroke="#111" stroke-width="1.4"/>
<line x1="41.0" y1="183.9" x2="44.0" y2="183.9" stroke="#111" stroke-width="1.4"/>
<line x1="37.8" y1="157.6" x2="44.0" y2="157.6" stroke="#111" stroke-width="1.4"/>
<line x1="41.0" y1="131.4" x2="44.0" y2="131.4" stroke="#111" stroke-width="1.4"/>
<line x1="37.8" y1="105.1" x2="44.0" y2="105.1" stroke="#111" stroke-width="1.4"/>
<line x1="41.0" y1="78.9" x2="44.0" y2="78.9" stroke="#111" stroke-width="1.4"/>
<line x1="37.8" y1="52.6" x2="44.0" y2="52.6" stroke="#111" stroke-width="1.4"/>
<line x1="41.0" y1="26.4" x2="44.0" y2="26.4" stroke="#111" stroke-width="1.4"/>
<text x="27.38" y="318.8" font-family='"Liberation Sans", sans-serif' font-size="10.7" fill="#222" textLength="6.23" lengthAdjust="spacingAndGlyphs">0</text>
<text x="14.94" y="266.3" font-family='"Liberation Sans", sans-serif' font-size="10.7" fill="#222" textLength="18.69" lengthAdjust="spacingAndGlyphs">250</text>
<text x="14.94" y="213.8" font-family='"Liberation Sans", sans-serif' font-size="10.7" fill="#222" textLength="18.69" lengthAdjust="spacingAndGlyphs">500</text>
<text x="14.94" y="161.3" font-family='"Liberation Sans", sans-serif' font-size="10.7" fill="#222" textLength="18.69" lengthAdjust="spacingAndGlyphs">750</text>
<text x="8.67" y="108.8" font-family='"Liberation Sans", sans-serif' font-size="10.7" fill="#222" textLength="24.92" lengthAdjust="spacingAndGlyphs">1000</text>
<text x="8.67" y="56.3" font-family='"Liberation Sans", sans-serif' font-size="10.7" fill="#222" textLength="24.92" lengthAdjust="spacingAndGlyphs">1250</text>
<text transform="translate(24.40,199.13) rotate(-90)" x="0" y="0" font-family='"Liberation Sans", sans-serif' font-size="12.8" fill="#222" textLength="33.61" lengthAdjust="spacingAndGlyphs">I (µA)</text>
<line x1="48.8" y1="336.6" x2="48.8" y2="342.20000000000005" stroke="#111" stroke-width="1.4"/>
<line x1="76.3" y1="336.6" x2="76.3" y2="340.0" stroke="#111" stroke-width="1.4"/>
<line x1="103.9" y1="336.6" x2="103.9" y2="342.20000000000005" stroke="#111" stroke-width="1.4"/>
<line x1="131.6" y1="336.6" x2="131.6" y2="340.0" stroke="#111" stroke-width="1.4"/>
<line x1="159.1" y1="336.6" x2="159.1" y2="342.20000000000005" stroke="#111" stroke-width="1.4"/>
<line x1="187.8" y1="336.6" x2="187.8" y2="342.20000000000005" stroke="#111" stroke-width="1.4"/>
<line x1="215.1" y1="336.6" x2="215.1" y2="340.0" stroke="#111" stroke-width="1.4"/>
<line x1="242.5" y1="336.6" x2="242.5" y2="342.20000000000005" stroke="#111" stroke-width="1.4"/>
<line x1="269.9" y1="336.6" x2="269.9" y2="340.0" stroke="#111" stroke-width="1.4"/>
<line x1="297.2" y1="336.6" x2="297.2" y2="342.20000000000005" stroke="#111" stroke-width="1.4"/>
<text x="46.20" y="355.9" font-family='"Liberation Sans", sans-serif' font-size="11.2" fill="#222" textLength="6.06" lengthAdjust="spacingAndGlyphs">0</text>
<text x="184.37" y="357.9" font-family='"Liberation Sans", sans-serif' font-size="13.5" fill="#1a1a1a" textLength="7.12" lengthAdjust="spacingAndGlyphs">0</text>
<text x="95.35" y="355.9" font-family='"Liberation Sans", sans-serif' font-size="11.2" fill="#222" textLength="18.19" lengthAdjust="spacingAndGlyphs">500</text>
<text x="232.01" y="357.9" font-family='"Liberation Sans", sans-serif' font-size="13.5" fill="#1a1a1a" textLength="21.36" lengthAdjust="spacingAndGlyphs">500</text>
<text x="147.31" y="355.9" font-family='"Liberation Sans", sans-serif' font-size="11.2" fill="#222" textLength="24.25" lengthAdjust="spacingAndGlyphs">1000</text>
<text x="282.95" y="357.9" font-family='"Liberation Sans", sans-serif' font-size="13.5" fill="#1a1a1a" textLength="28.48" lengthAdjust="spacingAndGlyphs">1000</text>
<text x="56.19" y="372.75" font-family='"Liberation Sans", sans-serif' font-size="12.6" fill="#222" textLength="98.69" lengthAdjust="spacingAndGlyphs">V (mV) vs Ag/AgCl</text>
<text x="196.54" y="372.75" font-family='"Liberation Sans", sans-serif' font-size="12.6" fill="#222" textLength="98.23" lengthAdjust="spacingAndGlyphs">V (mV) vs Ag/AgCl</text>
<text x="55.38" y="247.5" font-family='"Liberation Sans", sans-serif' font-size="10.0" font-style="italic" fill="#222" textLength="56.52" lengthAdjust="spacingAndGlyphs">anodic shift</text>
<text x="211.03" y="251.5" font-family='"Liberation Sans", sans-serif' font-size="10.0" font-style="italic" fill="#222" textLength="56.07" lengthAdjust="spacingAndGlyphs">anodic shift</text>
<line x1="53" y1="254.4" x2="108" y2="254.4" stroke="#222" stroke-width="0.9"/>
<path d="M106.5,252.2 L115,254.4 L106.5,256.6 z" fill="#111"/>
<line x1="208" y1="256.5" x2="262" y2="256.5" stroke="#888" stroke-width="0.9"/>
<path d="M261,254.4 L268.8,256.5 L261,258.6 z" fill="#111"/>
<path d="M61.2,306.0 L78.5,306.0 L78.5,303.5 L85.1,308.3 L78.5,313.1 L78.5,310.6 L61.2,310.6 z" fill="#b2e26a"/>
<path d="M211.1,303.5 L228.1,303.5 L228.1,300.8 L236.0,305.6 L228.1,310.40000000000003 L228.1,307.70000000000005 L211.1,307.70000000000005 z" fill="#b2e26a"/>
<line x1="108.0" y1="329.7" x2="113.1" y2="318.5" stroke="#777" stroke-width="0.8"/>
<path d="M113.1,318.5 L112.1,325.7 L108.3,324.0 z" fill="#111"/>
<text x="115.72" y="329.3" font-family='"Liberation Sans", sans-serif' font-size="11.0" font-style="italic" fill="#222" textLength="2.61" lengthAdjust="spacingAndGlyphs">i</text>
<text x="117.66" y="332.8" font-family='"Liberation Sans", sans-serif' font-size="7.8" font-style="italic" fill="#444" textLength="10.55" lengthAdjust="spacingAndGlyphs">cat</text>
<line x1="246.0" y1="332.4" x2="251.1" y2="320.5" stroke="#777" stroke-width="0.8"/>
<path d="M251.1,320.5 L250.3,327.8 L246.4,326.1 z" fill="#111"/>
<text x="253.13" y="328.5" font-family='"Liberation Sans", sans-serif' font-size="11.0" font-style="italic" fill="#222" textLength="2.51" lengthAdjust="spacingAndGlyphs">i</text>
<text x="255.49" y="331.3" font-family='"Liberation Sans", sans-serif' font-size="7.6" font-style="italic" fill="#444" textLength="9.56" lengthAdjust="spacingAndGlyphs">cat</text>
<rect x="368.8" y="22.6" width="422.40000000000003" height="313.09999999999997" fill="none" stroke="#6e6e6e" stroke-width="1.3"/>
<line x1="509.7" y1="22.6" x2="509.7" y2="335.7" stroke="#6e6e6e" stroke-width="1.3"/>
<line x1="650.5" y1="22.6" x2="650.5" y2="335.7" stroke="#6e6e6e" stroke-width="1.3"/>
<line x1="365.8" y1="335.7" x2="368.8" y2="335.7" stroke="#555" stroke-width="1.1"/>
<line x1="367.0" y1="318.3" x2="368.8" y2="318.3" stroke="#555" stroke-width="1.1"/>
<line x1="365.8" y1="300.9" x2="368.8" y2="300.9" stroke="#555" stroke-width="1.1"/>
<line x1="367.0" y1="283.6" x2="368.8" y2="283.6" stroke="#555" stroke-width="1.1"/>
<line x1="365.8" y1="266.2" x2="368.8" y2="266.2" stroke="#555" stroke-width="1.1"/>
<line x1="367.0" y1="248.8" x2="368.8" y2="248.8" stroke="#555" stroke-width="1.1"/>
<line x1="365.8" y1="231.4" x2="368.8" y2="231.4" stroke="#555" stroke-width="1.1"/>
<line x1="367.0" y1="214.1" x2="368.8" y2="214.1" stroke="#555" stroke-width="1.1"/>
<line x1="365.8" y1="196.7" x2="368.8" y2="196.7" stroke="#555" stroke-width="1.1"/>
<line x1="367.0" y1="179.3" x2="368.8" y2="179.3" stroke="#555" stroke-width="1.1"/>
<line x1="365.8" y1="161.9" x2="368.8" y2="161.9" stroke="#555" stroke-width="1.1"/>
<line x1="367.0" y1="144.6" x2="368.8" y2="144.6" stroke="#555" stroke-width="1.1"/>
<line x1="365.8" y1="127.2" x2="368.8" y2="127.2" stroke="#555" stroke-width="1.1"/>
<line x1="367.0" y1="109.8" x2="368.8" y2="109.8" stroke="#555" stroke-width="1.1"/>
<line x1="365.8" y1="92.4" x2="368.8" y2="92.4" stroke="#555" stroke-width="1.1"/>
<line x1="367.0" y1="75.1" x2="368.8" y2="75.1" stroke="#555" stroke-width="1.1"/>
<line x1="365.8" y1="57.7" x2="368.8" y2="57.7" stroke="#555" stroke-width="1.1"/>
<line x1="367.0" y1="40.3" x2="368.8" y2="40.3" stroke="#555" stroke-width="1.1"/>
<line x1="365.8" y1="22.9" x2="368.8" y2="22.9" stroke="#555" stroke-width="1.1"/>
<text x="359.42" y="337.7" font-family='"Liberation Sans", sans-serif' font-size="8.1" fill="#222" textLength="4.15" lengthAdjust="spacingAndGlyphs">0</text>
<text x="355.28" y="302.95" font-family='"Liberation Sans", sans-serif' font-size="8.1" fill="#222" textLength="8.30" lengthAdjust="spacingAndGlyphs">20</text>
<text x="355.28" y="268.2" font-family='"Liberation Sans", sans-serif' font-size="8.1" fill="#222" textLength="8.30" lengthAdjust="spacingAndGlyphs">40</text>
<text x="355.28" y="233.45" font-family='"Liberation Sans", sans-serif' font-size="8.1" fill="#222" textLength="8.30" lengthAdjust="spacingAndGlyphs">60</text>
<text x="355.28" y="198.7" font-family='"Liberation Sans", sans-serif' font-size="8.1" fill="#222" textLength="8.30" lengthAdjust="spacingAndGlyphs">80</text>
<text x="351.14" y="163.95" font-family='"Liberation Sans", sans-serif' font-size="8.1" fill="#222" textLength="12.45" lengthAdjust="spacingAndGlyphs">100</text>
<text x="351.14" y="129.2" font-family='"Liberation Sans", sans-serif' font-size="8.1" fill="#222" textLength="12.45" lengthAdjust="spacingAndGlyphs">120</text>
<text x="351.14" y="94.45" font-family='"Liberation Sans", sans-serif' font-size="8.1" fill="#222" textLength="12.45" lengthAdjust="spacingAndGlyphs">140</text>
<text x="351.14" y="59.7" font-family='"Liberation Sans", sans-serif' font-size="8.1" fill="#222" textLength="12.45" lengthAdjust="spacingAndGlyphs">160</text>
<text x="351.14" y="24.95" font-family='"Liberation Sans", sans-serif' font-size="8.1" fill="#222" textLength="12.45" lengthAdjust="spacingAndGlyphs">180</text>
<text transform="translate(347.60,191.40) rotate(-90)" x="0" y="0" font-family='"Liberation Sans", sans-serif' font-size="9.3" fill="#222" textLength="24.65" lengthAdjust="spacingAndGlyphs">I (µA)</text>
<line x1="373.9" y1="335.7" x2="373.9" y2="338.0" stroke="#555" stroke-width="1.1"/>
<line x1="388.0" y1="335.7" x2="388.0" y2="338.8" stroke="#555" stroke-width="1.1"/>
<line x1="402.0" y1="335.7" x2="402.0" y2="338.0" stroke="#555" stroke-width="1.1"/>
<line x1="416.1" y1="335.7" x2="416.1" y2="338.8" stroke="#555" stroke-width="1.1"/>
<line x1="430.2" y1="335.7" x2="430.2" y2="338.0" stroke="#555" stroke-width="1.1"/>
<line x1="444.3" y1="335.7" x2="444.3" y2="338.8" stroke="#555" stroke-width="1.1"/>
<line x1="458.4" y1="335.7" x2="458.4" y2="338.0" stroke="#555" stroke-width="1.1"/>
<line x1="472.4" y1="335.7" x2="472.4" y2="338.8" stroke="#555" stroke-width="1.1"/>
<line x1="486.5" y1="335.7" x2="486.5" y2="338.0" stroke="#555" stroke-width="1.1"/>
<line x1="500.6" y1="335.7" x2="500.6" y2="338.8" stroke="#555" stroke-width="1.1"/>
<text x="385.69" y="347.75" font-family='"Liberation Sans", sans-serif' font-size="8.3" fill="#222" textLength="4.56" lengthAdjust="spacingAndGlyphs">3</text>
<text x="413.81" y="347.75" font-family='"Liberation Sans", sans-serif' font-size="8.3" fill="#222" textLength="4.56" lengthAdjust="spacingAndGlyphs">6</text>
<text x="442.00" y="347.75" font-family='"Liberation Sans", sans-serif' font-size="8.3" fill="#222" textLength="4.56" lengthAdjust="spacingAndGlyphs">9</text>
<text x="467.78" y="347.75" font-family='"Liberation Sans", sans-serif' font-size="8.3" fill="#222" textLength="9.12" lengthAdjust="spacingAndGlyphs">12</text>
<text x="495.90" y="347.75" font-family='"Liberation Sans", sans-serif' font-size="8.3" fill="#222" textLength="9.12" lengthAdjust="spacingAndGlyphs">15</text>
<text x="424.29" y="361.25" font-family='"Liberation Sans", sans-serif' font-size="9.0" fill="#222" textLength="30.79" lengthAdjust="spacingAndGlyphs">C (mM)</text>
<line x1="514.7" y1="335.7" x2="514.7" y2="338.0" stroke="#555" stroke-width="1.1"/>
<line x1="528.8" y1="335.7" x2="528.8" y2="338.8" stroke="#555" stroke-width="1.1"/>
<line x1="542.8" y1="335.7" x2="542.8" y2="338.0" stroke="#555" stroke-width="1.1"/>
<line x1="556.9" y1="335.7" x2="556.9" y2="338.8" stroke="#555" stroke-width="1.1"/>
<line x1="571.0" y1="335.7" x2="571.0" y2="338.0" stroke="#555" stroke-width="1.1"/>
<line x1="585.1" y1="335.7" x2="585.1" y2="338.8" stroke="#555" stroke-width="1.1"/>
<line x1="599.2" y1="335.7" x2="599.2" y2="338.0" stroke="#555" stroke-width="1.1"/>
<line x1="613.2" y1="335.7" x2="613.2" y2="338.8" stroke="#555" stroke-width="1.1"/>
<line x1="627.3" y1="335.7" x2="627.3" y2="338.0" stroke="#555" stroke-width="1.1"/>
<line x1="641.4" y1="335.7" x2="641.4" y2="338.8" stroke="#555" stroke-width="1.1"/>
<text x="526.49" y="347.75" font-family='"Liberation Sans", sans-serif' font-size="8.3" fill="#222" textLength="4.56" lengthAdjust="spacingAndGlyphs">3</text>
<text x="554.61" y="347.75" font-family='"Liberation Sans", sans-serif' font-size="8.3" fill="#222" textLength="4.56" lengthAdjust="spacingAndGlyphs">6</text>
<text x="582.80" y="347.75" font-family='"Liberation Sans", sans-serif' font-size="8.3" fill="#222" textLength="4.56" lengthAdjust="spacingAndGlyphs">9</text>
<text x="608.58" y="347.75" font-family='"Liberation Sans", sans-serif' font-size="8.3" fill="#222" textLength="9.12" lengthAdjust="spacingAndGlyphs">12</text>
<text x="636.70" y="347.75" font-family='"Liberation Sans", sans-serif' font-size="8.3" fill="#222" textLength="9.12" lengthAdjust="spacingAndGlyphs">15</text>
<text x="565.19" y="361.25" font-family='"Liberation Sans", sans-serif' font-size="9.0" fill="#222" textLength="30.79" lengthAdjust="spacingAndGlyphs">C (mM)</text>
<line x1="655.2" y1="335.7" x2="655.2" y2="338.0" stroke="#555" stroke-width="1.1"/>
<line x1="669.3" y1="335.7" x2="669.3" y2="338.8" stroke="#555" stroke-width="1.1"/>
<line x1="683.3" y1="335.7" x2="683.3" y2="338.0" stroke="#555" stroke-width="1.1"/>
<line x1="697.4" y1="335.7" x2="697.4" y2="338.8" stroke="#555" stroke-width="1.1"/>
<line x1="711.5" y1="335.7" x2="711.5" y2="338.0" stroke="#555" stroke-width="1.1"/>
<line x1="725.6" y1="335.7" x2="725.6" y2="338.8" stroke="#555" stroke-width="1.1"/>
<line x1="739.7" y1="335.7" x2="739.7" y2="338.0" stroke="#555" stroke-width="1.1"/>
<line x1="753.7" y1="335.7" x2="753.7" y2="338.8" stroke="#555" stroke-width="1.1"/>
<line x1="767.8" y1="335.7" x2="767.8" y2="338.0" stroke="#555" stroke-width="1.1"/>
<line x1="781.9" y1="335.7" x2="781.9" y2="338.8" stroke="#555" stroke-width="1.1"/>
<text x="666.99" y="347.75" font-family='"Liberation Sans", sans-serif' font-size="8.3" fill="#222" textLength="4.56" lengthAdjust="spacingAndGlyphs">3</text>
<text x="695.11" y="347.75" font-family='"Liberation Sans", sans-serif' font-size="8.3" fill="#222" textLength="4.56" lengthAdjust="spacingAndGlyphs">6</text>
<text x="723.30" y="347.75" font-family='"Liberation Sans", sans-serif' font-size="8.3" fill="#222" textLength="4.56" lengthAdjust="spacingAndGlyphs">9</text>
<text x="749.08" y="347.75" font-family='"Liberation Sans", sans-serif' font-size="8.3" fill="#222" textLength="9.12" lengthAdjust="spacingAndGlyphs">12</text>
<text x="777.20" y="347.75" font-family='"Liberation Sans", sans-serif' font-size="8.3" fill="#222" textLength="9.12" lengthAdjust="spacingAndGlyphs">15</text>
<text x="705.99" y="361.25" font-family='"Liberation Sans", sans-serif' font-size="9.0" fill="#222" textLength="30.79" lengthAdjust="spacingAndGlyphs">C (mM)</text>
<clipPath id="cb3"><rect x="650.5" y="22.6" width="140.70000000000005" height="313.09999999999997"/></clipPath>
<rect x="394.7" y="265.6" width="5.4" height="5.4" fill="#0fcf0f"/>
<rect x="404.0" y="229.6" width="5.4" height="5.4" fill="#0fcf0f"/>
<rect x="413.4" y="212.2" width="5.4" height="5.4" fill="#0fcf0f"/>
<rect x="422.8" y="206.7" width="5.4" height="5.4" fill="#0fcf0f"/>
<rect x="432.2" y="201.6" width="5.4" height="5.4" fill="#0fcf0f"/>
<rect x="441.6" y="168.8" width="5.4" height="5.4" fill="#0fcf0f"/>
<rect x="451.0" y="144.1" width="5.4" height="5.4" fill="#0fcf0f"/>
<rect x="460.3" y="135.6" width="5.4" height="5.4" fill="#0fcf0f"/>
<rect x="469.7" y="127.3" width="5.4" height="5.4" fill="#0fcf0f"/>
<circle cx="388.0" cy="316.8" r="2.8" fill="#f46a6a"/>
<circle cx="397.4" cy="306.2" r="2.8" fill="#f46a6a"/>
<circle cx="406.7" cy="285.7" r="2.8" fill="#f46a6a"/>
<circle cx="416.1" cy="275.2" r="2.8" fill="#f46a6a"/>
<circle cx="425.5" cy="261.3" r="2.8" fill="#f46a6a"/>
<circle cx="434.9" cy="250.0" r="2.8" fill="#f46a6a"/>
<circle cx="444.3" cy="227.6" r="2.8" fill="#f46a6a"/>
<circle cx="453.7" cy="206.1" r="2.8" fill="#f46a6a"/>
<circle cx="463.0" cy="196.7" r="2.8" fill="#f46a6a"/>
<circle cx="472.4" cy="190.1" r="2.8" fill="#f46a6a"/>
<rect x="526.1" y="325.4" width="5.4" height="5.4" fill="#0fcf0f"/>
<rect x="535.5" y="288.2" width="5.4" height="5.4" fill="#0fcf0f"/>
<rect x="544.8" y="268.5" width="5.4" height="5.4" fill="#0fcf0f"/>
<rect x="554.2" y="236.2" width="5.4" height="5.4" fill="#0fcf0f"/>
<rect x="563.6" y="208.9" width="5.4" height="5.4" fill="#0fcf0f"/>
<rect x="573.0" y="168.3" width="5.4" height="5.4" fill="#0fcf0f"/>
<rect x="582.4" y="147.4" width="5.4" height="5.4" fill="#0fcf0f"/>
<rect x="591.8" y="131.4" width="5.4" height="5.4" fill="#0fcf0f"/>
<rect x="601.1" y="105.7" width="5.4" height="5.4" fill="#0fcf0f"/>
<rect x="610.5" y="84.7" width="5.4" height="5.4" fill="#0fcf0f"/>
<rect x="619.9" y="78.1" width="5.4" height="5.4" fill="#0fcf0f"/>
<circle cx="528.8" cy="328.1" r="2.8" fill="#f46a6a"/>
<circle cx="538.2" cy="306.7" r="2.8" fill="#f46a6a"/>
<circle cx="547.5" cy="292.4" r="2.8" fill="#f46a6a"/>
<circle cx="556.9" cy="261.7" r="2.8" fill="#f46a6a"/>
<circle cx="566.3" cy="245.2" r="2.8" fill="#f46a6a"/>
<circle cx="575.7" cy="222.9" r="2.8" fill="#f46a6a"/>
<circle cx="585.1" cy="191.0" r="2.8" fill="#f46a6a"/>
<circle cx="594.5" cy="179.2" r="2.8" fill="#f46a6a"/>
<circle cx="603.9" cy="122.7" r="2.8" fill="#f46a6a"/>
<circle cx="613.2" cy="35.6" r="2.8" fill="#f46a6a"/>
<g clip-path="url(#cb3)">
<path d="M650.5,310.8 L653.7,314.0 L650.5,317.2 L647.3,314.0 z" fill="#9a3cf6"/>
<path d="M659.9,291.8 L663.1,295.0 L659.9,298.2 L656.7,295.0 z" fill="#9a3cf6"/>
<path d="M669.3,269.4 L672.5,272.6 L669.3,275.8 L666.1,272.6 z" fill="#9a3cf6"/>
<path d="M678.7,241.1 L681.9,244.3 L678.7,247.5 L675.5,244.3 z" fill="#9a3cf6"/>
<path d="M688.0,214.5 L691.2,217.7 L688.0,220.9 L684.8,217.7 z" fill="#9a3cf6"/>
<path d="M697.4,194.4 L700.6,197.6 L697.4,200.8 L694.2,197.6 z" fill="#9a3cf6"/>
<path d="M706.8,164.7 L710.0,167.9 L706.8,171.1 L703.6,167.9 z" fill="#9a3cf6"/>
<path d="M716.2,144.7 L719.4,147.9 L716.2,151.1 L713.0,147.9 z" fill="#9a3cf6"/>
<path d="M725.6,122.4 L728.8,125.6 L725.6,128.8 L722.4,125.6 z" fill="#9a3cf6"/>
<path d="M735.0,108.5 L738.2,111.7 L735.0,114.9 L731.8,111.7 z" fill="#9a3cf6"/>
<path d="M744.4,98.3 L747.6,101.5 L744.4,104.7 L741.1,101.5 z" fill="#9a3cf6"/>
<path d="M753.7,83.5 L756.9,86.7 L753.7,89.9 L750.5,86.7 z" fill="#9a3cf6"/>
<path d="M763.1,74.7 L766.3,77.9 L763.1,81.1 L759.9,77.9 z" fill="#9a3cf6"/>
<path d="M772.5,70.8 L775.7,74.0 L772.5,77.2 L769.3,74.0 z" fill="#9a3cf6"/>
<path d="M781.9,65.6 L785.1,68.8 L781.9,72.0 L778.7,68.8 z" fill="#9a3cf6"/>
<path d="M791.3,59.4 L794.5,62.6 L791.3,65.8 L788.1,62.6 z" fill="#9a3cf6"/>
<path d="M650.5,315.9 L653.8,321.7 L647.2,321.7 z" fill="#1e3cff"/>
<path d="M659.9,302.0 L663.2,307.8 L656.6,307.8 z" fill="#1e3cff"/>
<path d="M669.3,288.8 L672.6,294.6 L666.0,294.6 z" fill="#1e3cff"/>
<path d="M678.7,272.5 L682.0,278.3 L675.4,278.3 z" fill="#1e3cff"/>
<path d="M688.0,255.1 L691.3,260.9 L684.7,260.9 z" fill="#1e3cff"/>
<path d="M697.4,231.3 L700.7,237.1 L694.1,237.1 z" fill="#1e3cff"/>
<path d="M706.8,208.0 L710.1,213.8 L703.5,213.8 z" fill="#1e3cff"/>
<path d="M716.2,175.7 L719.5,181.5 L712.9,181.5 z" fill="#1e3cff"/>
<path d="M725.6,142.5 L728.9,148.3 L722.3,148.3 z" fill="#1e3cff"/>
<path d="M735.0,124.5 L738.3,130.3 L731.7,130.3 z" fill="#1e3cff"/>
</g>
<text x="373.28" y="36.9" font-family='"Liberation Sans", sans-serif' font-size="8.9" fill="#222" textLength="18.91" lengthAdjust="spacingAndGlyphs">CC4</text>
<text x="396.86" y="47.45" font-family='"Liberation Sans", sans-serif' font-size="8.6" fill="#222" textLength="65.17" lengthAdjust="spacingAndGlyphs">voltage increase</text>
<text x="396.86" y="58.2" font-family='"Liberation Sans", sans-serif' font-size="8.6" fill="#222" textLength="67.56" lengthAdjust="spacingAndGlyphs">voltage decrease</text>
<text x="514.77" y="37.2" font-family='"Liberation Sans", sans-serif' font-size="8.9" fill="#222" textLength="19.01" lengthAdjust="spacingAndGlyphs">CC5</text>
<text x="537.75" y="48.05" font-family='"Liberation Sans", sans-serif' font-size="8.6" fill="#222" textLength="70.88" lengthAdjust="spacingAndGlyphs">voltaege increase</text>
<text x="537.76" y="59.1" font-family='"Liberation Sans", sans-serif' font-size="8.6" fill="#222" textLength="68.46" lengthAdjust="spacingAndGlyphs">volatge decrease</text>
<text x="681.54" y="42.8" font-family='"Liberation Sans", sans-serif' font-size="9.0" fill="#222" textLength="18.23" lengthAdjust="spacingAndGlyphs">CC4</text>
<text x="681.54" y="53.2" font-family='"Liberation Sans", sans-serif' font-size="9.0" fill="#222" textLength="18.33" lengthAdjust="spacingAndGlyphs">CC5</text>
<rect x="380.9" y="42.0" width="5.4" height="5.4" fill="#0fcf0f"/>
<circle cx="383.7" cy="55.9" r="2.8" fill="#f46a6a"/>
<rect x="522.5" y="42.8" width="5.2" height="5.2" fill="#0fcf0f"/>
<circle cx="525.0" cy="56.9" r="2.8" fill="#f46a6a"/>
<path d="M669.0,36.2 L672.3,39.5 L669.0,42.8 L665.8,39.5 z" fill="#9a3cf6"/>
<path d="M669.1,47.4 L672.4,52.8 L665.8,52.8 z" fill="#1e3cff"/>
</svg>
</body></html>
